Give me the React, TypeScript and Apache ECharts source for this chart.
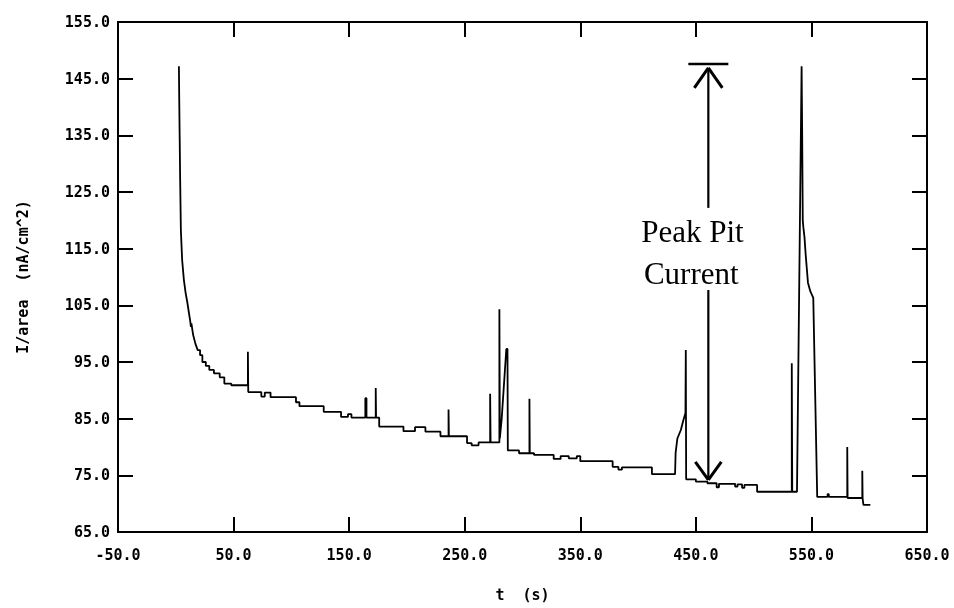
import React, { useEffect, useRef } from "react";
import * as echarts from "echarts";

// time (s) and current density (nA/cm^2)
const timeValues = [
  2.7, 3.0, 3.4, 3.8, 4.4, 5.5, 7.0, 8.5, 10, 11.5, 12.5, 13.1, 13.5, 15, 17, 19, 21, 21, 23, 23, 26, 26, 29, 29, 33, 33, 38, 38, 42, 42, 48, 48,
  62.4, 62.4, 62.7, 62.7, 74, 74, 77, 77, 82, 82, 104, 104, 107, 107, 128, 128, 143, 143, 149, 149, 152, 152,
  164, 164, 165, 165, 173, 173, 173.3, 176, 176, 197, 197, 207, 207, 216, 216, 229, 229, 236, 236, 236.3,
  252, 252, 256, 256, 262, 262, 272, 272, 272.4, 280, 280, 280.4, 282, 286, 287, 287.3,
  297, 297, 306, 306, 306.3, 310, 310, 327, 327, 333, 333, 340, 340, 347, 347, 350, 350, 378, 378, 383, 383, 386, 386,
  412, 412, 432, 432.5, 434, 437, 439, 441, 441.3, 441.6, 450, 450, 460, 460, 468, 468, 470, 470, 484, 484, 486, 486, 490, 490, 492, 492,
  503, 503, 533, 533, 533.4, 537.5, 541.5, 542, 542.5, 543, 544, 545, 547, 549, 551.6, 555,
  564, 564, 565, 565, 581, 581, 581.3, 594, 594, 594.3, 595, 601,
];
const currentValues = [
  147.2, 141, 134, 127, 118.3, 113, 109.5, 107.2, 105.5, 103.5, 102.2, 101.2, 101.8, 99.8, 98.2, 97.1, 97.1, 96.2, 96.2, 95.0, 95.0, 94.3, 94.3, 93.6, 93.6, 93.0, 93.0, 92.3, 92.3, 91.2, 91.2, 90.9,
  90.9, 96.8, 96.8, 89.7, 89.7, 88.9, 88.9, 89.6, 89.6, 88.8, 88.8, 87.9, 87.9, 87.2, 87.2, 86.2, 86.2, 85.3, 85.3, 85.8, 85.8, 85.2,
  85.2, 88.6, 88.6, 85.2, 85.2, 90.4, 85.2, 85.2, 83.6, 83.6, 82.8, 82.8, 83.5, 83.5, 82.7, 82.7, 81.9, 81.9, 86.6, 81.9,
  81.9, 80.7, 80.7, 80.3, 80.3, 80.8, 80.8, 89.4, 80.8, 80.8, 104.3, 81.5, 85, 97.3, 97.3, 79.4,
  79.4, 78.9, 78.9, 88.5, 78.9, 78.9, 78.6, 78.6, 77.9, 77.9, 78.4, 78.4, 78.0, 78.0, 78.4, 78.4, 77.5, 77.5, 76.5, 76.5, 76.0, 76.0, 76.4,
  76.4, 75.2, 75.2, 79, 81.5, 83.0, 84.6, 86, 97.1, 74.3, 74.3, 73.9, 73.9, 73.6, 73.6, 72.9, 72.9, 73.5, 73.5, 73.0, 73.0, 73.4, 73.4, 72.8, 72.8, 73.3,
  73.3, 72.1, 72.1, 94.8, 72.1, 72.1, 147.2, 135, 120, 118.8, 117, 114, 109, 107.5, 106.3, 71.2,
  71.2, 71.7, 71.7, 71.2, 71.2, 80.0, 71.0, 71.0, 75.8, 70.9, 69.8, 69.8,
];

// axis settings
const xMin = -50;
const xMax = 650;
const xStep = 100;
const yMin = 65;
const yMax = 155;
const yStep = 10;

// annotation (data coordinates)
const arrowT = [460.8];
const peakLevel = [147.6];
const barHalfWidth = [17.3];
const upperStemEnd = [122.2];
const lowerStemStart = [107.7];
const pitBaseLevel = [74.2];
const labelLines = ["Peak Pit", "Current"];
const labelT = [447.0, 446.0];
const labelY = [118.0, 110.6];

const monoFont = "'DejaVu Sans Mono', monospace";

export default function App() {
  const ref = useRef<HTMLDivElement>(null);
  useEffect(() => {
    if (!ref.current) return;
    const chart = echarts.init(ref.current, null, { renderer: "svg" });
    const traceData = timeValues.map((t, i) => [t, currentValues[i]]);

    const mkLine = () => ({ show: true, onZero: false, lineStyle: { color: "#000", width: 2 } });
    const mkTick = () => ({ show: true, inside: true, length: 15, lineStyle: { color: "#000", width: 2 } });
    const mkLabel = (margin: number) => ({
      fontFamily: monoFont,
      fontWeight: "bold",
      fontSize: 15,
      color: "#000",
      margin,
      formatter: (v: number) => v.toFixed(1),
    });
    const nameStyle = () => ({ fontFamily: monoFont, fontWeight: "bold", fontSize: 15, color: "#000" });

    chart.setOption({
      animation: false,
      grid: { left: 118, right: 27, top: 22, bottom: 76 },
      xAxis: [
        {
          type: "value",
          min: xMin,
          max: xMax,
          interval: xStep,
          position: "bottom",
          axisLine: mkLine(),
          axisTick: mkTick(),
          splitLine: { show: false },
          axisLabel: mkLabel(15),
          name: "t  (s)",
          nameLocation: "middle",
          nameGap: 55,
          nameTextStyle: nameStyle(),
        },
        {
          type: "value",
          min: xMin,
          max: xMax,
          interval: xStep,
          position: "top",
          axisLine: mkLine(),
          axisTick: mkTick(),
          splitLine: { show: false },
          axisLabel: { show: false },
        },
      ],
      yAxis: [
        {
          type: "value",
          min: yMin,
          max: yMax,
          interval: yStep,
          position: "left",
          axisLine: mkLine(),
          axisTick: mkTick(),
          splitLine: { show: false },
          axisLabel: mkLabel(8),
          name: "I/area  (nA/cm^2)",
          nameLocation: "middle",
          nameGap: 88,
          nameTextStyle: nameStyle(),
        },
        {
          type: "value",
          min: yMin,
          max: yMax,
          interval: yStep,
          position: "right",
          axisLine: mkLine(),
          axisTick: mkTick(),
          splitLine: { show: false },
          axisLabel: { show: false },
        },
      ],
      series: [
        {
          type: "line",
          data: traceData,
          xAxisIndex: 0,
          yAxisIndex: 0,
          showSymbol: false,
          symbol: "none",
          lineStyle: { color: "#000", width: 1.8 },
          z: 3,
        },
        {
          type: "custom",
          xAxisIndex: 0,
          yAxisIndex: 0,
          silent: true,
          clip: false,
          data: [[arrowT[0], peakLevel[0]]],
          renderItem: (_params: any, api: any) => {
            const children: any[] = [];
            const seg = (x1: number, y1: number, x2: number, y2: number, w: number) =>
              children.push({ type: "line", shape: { x1, y1, x2, y2 }, style: { stroke: "#000", lineWidth: w } });

            const x = arrowT[0];
            const barL = api.coord([x - barHalfWidth[0], peakLevel[0]]);
            const barR = api.coord([x + barHalfWidth[0], peakLevel[0]]);
            const top = api.coord([x, peakLevel[0]]);
            const upEnd = api.coord([x, upperStemEnd[0]]);
            const lowStart = api.coord([x, lowerStemStart[0]]);
            const tip = api.coord([x, pitBaseLevel[0]]);
            const upTipY = top[1] + 4;
            seg(barL[0], barL[1], barR[0], barR[1], 2.6);
            seg(top[0], upTipY, upEnd[0], upEnd[1], 2.2);
            seg(top[0] - 14, upTipY + 20, top[0], upTipY, 3);
            seg(top[0] + 14, upTipY + 20, top[0], upTipY, 3);
            seg(lowStart[0], lowStart[1], tip[0], tip[1], 2.2);
            seg(tip[0] - 13, tip[1] - 18, tip[0], tip[1], 3);
            seg(tip[0] + 13, tip[1] - 18, tip[0], tip[1], 3);

            labelLines.forEach((txt, i) => {
              const p = api.coord([labelT[i], labelY[i]]);
              children.push({
                type: "text",
                style: {
                  text: txt,
                  x: p[0],
                  y: p[1],
                  align: "center",
                  verticalAlign: "middle",
                  fill: "#000",
                  fontSize: 31,
                  fontFamily: "'Liberation Serif', 'Times New Roman', serif",
                },
              });
            });
            return { type: "group", children };
          },
          z: 4,
        },
      ],
    });
    return () => chart.dispose();
  }, []);
  return <div ref={ref} style={{ position: "fixed", left: 0, top: 0, width: 954, height: 608 }} />;
}
